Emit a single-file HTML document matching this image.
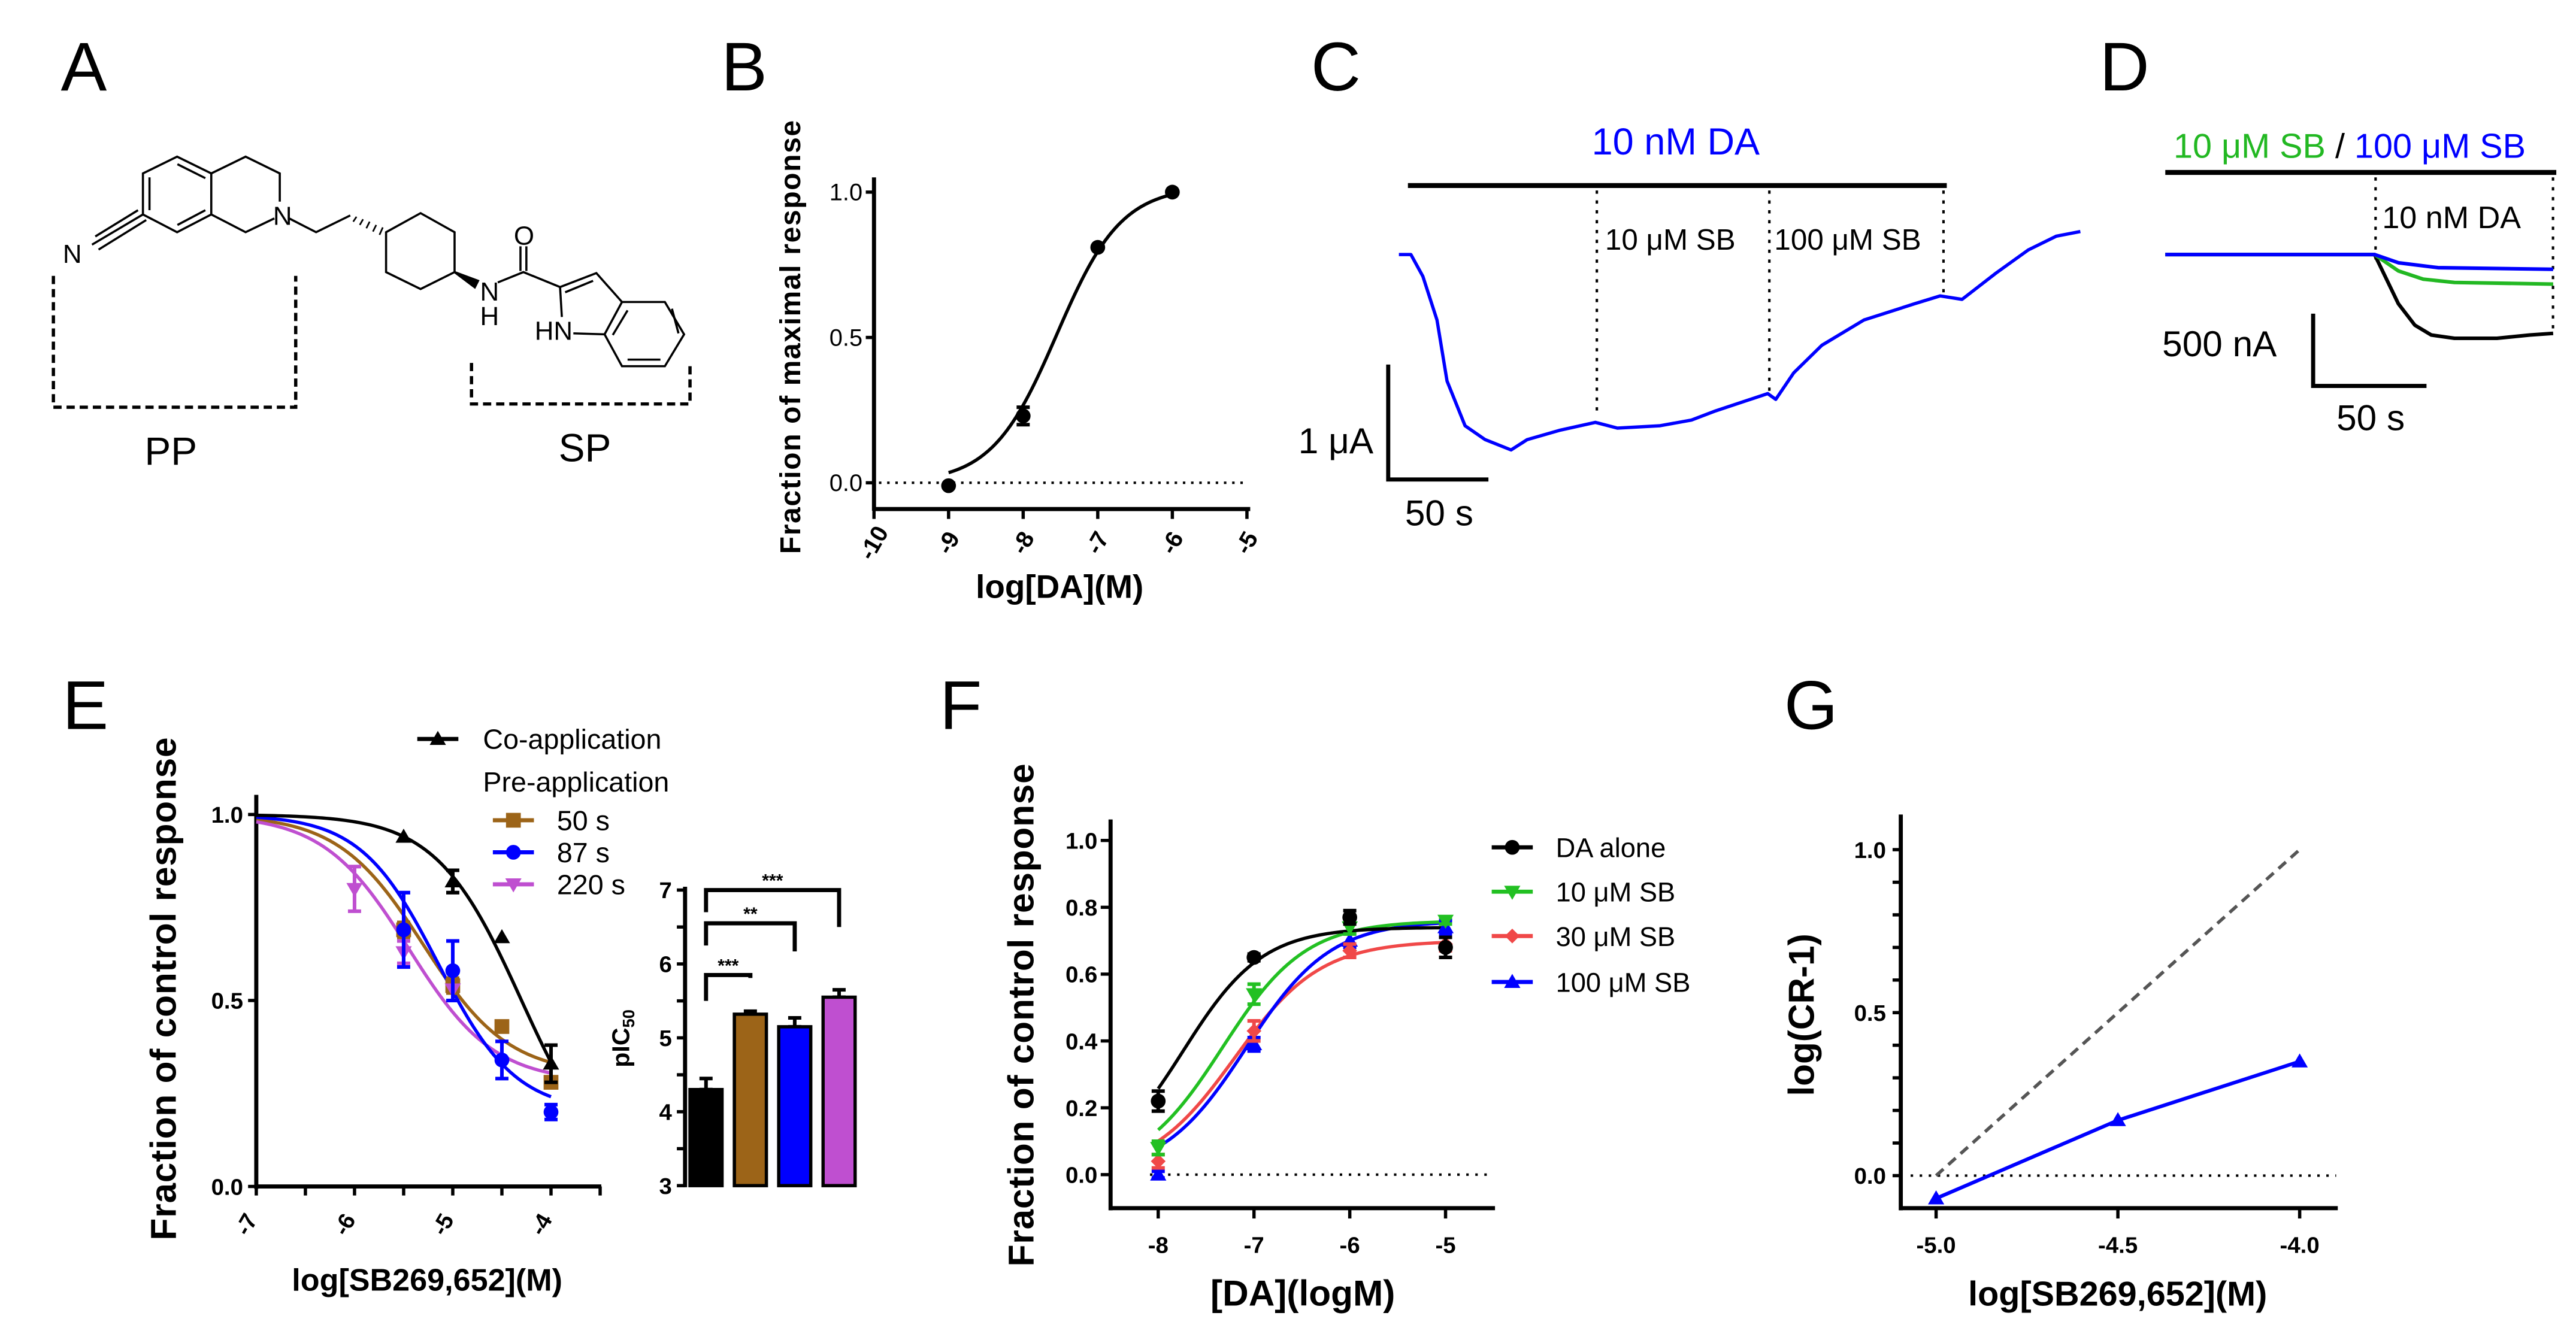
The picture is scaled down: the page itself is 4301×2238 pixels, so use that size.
<!DOCTYPE html>
<html><head><meta charset="utf-8"><style>
html,body{margin:0;padding:0;background:#fff}
svg{display:block}
text{font-family:"Liberation Sans",sans-serif}
.b{font-weight:bold}
.n{font-family:"Liberation Sans Narrow","Liberation Sans",sans-serif}
</style></head><body>
<svg id="fig" xmlns="http://www.w3.org/2000/svg" width="4301" height="2238" viewBox="0 0 1568 816" preserveAspectRatio="none">
<rect width="1568" height="816" fill="#fff"/>
<g font-size="42" fill="#000">
<text x="37" y="55">A</text>
<text x="439" y="55">B</text>
<text x="798" y="55">C</text>
<text x="1278" y="55">D</text>
<text x="38" y="444">E</text>
<text x="572" y="444">F</text>
<text x="1086" y="444">G</text>
</g>
<g id="structA" stroke="#000" stroke-width="1.3" fill="none">
<polygon points="107.8,95.4 128.6,105.6 128.6,130.6 107.8,141.4 87,130.6 87,105.6"/>
<line x1="91" y1="108" x2="91" y2="128"/><line x1="108" y1="100" x2="125" y2="108.5"/><line x1="108" y1="137" x2="125" y2="128"/>
<polyline points="128.6,105.6 149.5,95.4 170.3,105.6 170.3,122.8"/>
<polyline points="128.6,130.6 149.5,141.4 167,133"/>
<polyline points="176,133 192.4,141.4 213.2,131.2"/>
<g stroke-width="1"><line x1="217" y1="132" x2="215" y2="135"/><line x1="221" y1="133.5" x2="219" y2="137"/><line x1="225" y1="135" x2="223" y2="139"/><line x1="229" y1="137" x2="227" y2="141"/><line x1="233" y1="138.5" x2="231" y2="143"/></g>
<polygon points="235,141.4 256,129.8 276.7,141.4 276.7,165.7 256,176 235,165.7"/>
<polygon points="276.7,165.7 291,171 289,175" fill="#000"/>
<polyline points="303,172 318.6,165.7 340.9,174.8 363,166.3 378.6,183.9"/>
<line x1="316.8" y1="165" x2="316.8" y2="150"/><line x1="320.4" y1="165" x2="320.4" y2="150"/>
<line x1="344" y1="178" x2="361" y2="171"/>
<line x1="340.9" y1="174.8" x2="342" y2="193"/>
<line x1="349" y1="203" x2="368" y2="203.6"/>
<polygon points="378.6,183.9 404.7,183.9 416.4,203.6 404.7,223 378.6,223 368,203.6"/>
<line x1="382" y1="189" x2="373" y2="204"/><line x1="409" y1="188" x2="413" y2="203"/><line x1="382" y1="219" x2="402" y2="219"/>
<line x1="87" y1="130.6" x2="56" y2="149"/><line x1="84" y1="128" x2="58" y2="144"/><line x1="89" y1="134" x2="60" y2="152"/>
</g>
<g font-size="16" fill="#000" class="n">
<text x="172" y="137" text-anchor="middle">N</text>
<text x="44" y="160" text-anchor="middle">N</text>
<text x="298" y="183" text-anchor="middle">N</text>
<text x="298" y="198" text-anchor="middle">H</text>
<text x="319" y="149" text-anchor="middle">O</text>
<text x="337" y="207" text-anchor="middle">HN</text>
</g>
<g stroke="#000" stroke-width="2" stroke-dasharray="5,3" fill="none">
<polyline points="32.5,168 32.5,248 180,248 180,168"/>
<polyline points="287,221 287,246 420,246 420,221"/>
</g>
<text x="104" y="283" font-size="24" text-anchor="middle" class="n">PP</text>
<text x="356" y="281" font-size="24" text-anchor="middle" class="n">SP</text>

<text x="1020" y="94" font-size="23" fill="#0000ff" text-anchor="middle" class="n">10 nM DA</text>
<line x1="857" y1="113" x2="1185" y2="113" stroke="#000" stroke-width="3"/>
<g stroke="#000" stroke-width="1.5" stroke-dasharray="2,4">
<line x1="972" y1="116" x2="972" y2="254"/><line x1="1077" y1="116" x2="1077" y2="241"/><line x1="1183" y1="116" x2="1183" y2="179"/>
</g>
<text x="977" y="152" font-size="18" class="n">10 μM SB</text>
<text x="1080" y="152" font-size="18" class="n">100 μM SB</text>
<g id="traceC"></g>
<polyline points="845,222 845,292 906,292" stroke="#000" stroke-width="2.5" fill="none"/>
<text x="836" y="276" font-size="22" text-anchor="end" class="n">1 μA</text>
<text x="876" y="320" font-size="22" text-anchor="middle" class="n">50 s</text>

<text x="1323" y="96" font-size="21" class="n"><tspan fill="#22b822">10 μM SB</tspan><tspan fill="#000"> / </tspan><tspan fill="#0000ff">100 μM SB</tspan></text>
<line x1="1318" y1="105" x2="1556" y2="105" stroke="#000" stroke-width="3"/>
<g stroke="#000" stroke-width="1.5" stroke-dasharray="2,4">
<line x1="1446" y1="108" x2="1446" y2="160"/><line x1="1554" y1="108" x2="1554" y2="204"/>
</g>
<text x="1450" y="139" font-size="19" class="n">10 nM DA</text>
<g id="traceD"></g>
<polyline points="1408,191 1408,235 1477,235" stroke="#000" stroke-width="2.5" fill="none"/>
<text x="1351" y="217" font-size="22" text-anchor="middle" class="n">500 nA</text>
<text x="1443" y="262" font-size="22" text-anchor="middle" class="n">50 s</text>

<g id="chartB"></g>
<g id="chartE"></g>
<g id="chartEbar"></g>
<g id="chartF"></g>
<g id="chartG"></g>
</svg>
<script>
const bX = [-9, -8, -7, -6];
const bY = [-0.01, 0.23, 0.81, 1.0];
const bErr = [0.0, 0.03, 0.0, 0.0];
const bFit = [0, 1.02, -7.55, 1.0];
const bXTicks = [-10, -9, -8, -7, -6, -5];
const bYTicks = [0, 0.5, 1.0];
const cT = [0,6,12,19,24,33,43,56,64,80,98,109,130,146,158,184,188,197,211,232,257,270,281,298,314,328,340];
const cI = [0,0,-0.19,-0.57,-1.10,-1.49,-1.61,-1.70,-1.61,-1.53,-1.46,-1.51,-1.49,-1.44,-1.36,-1.21,-1.26,-1.03,-0.79,-0.57,-0.43,-0.36,-0.39,-0.16,0.04,0.16,0.20];
const dBlackT = [0,93,103.6,110.9,118.2,128.5,147.4,162,172.3];
const dBlackI = [0,0,-341,-489,-557,-580,-580,-557,-545];
const dGreenT = [0,93,103.6,114.6,128.5,172.3];
const dGreenI = [0,0,-114,-170,-193,-205];
const dBlueT = [0,93,103.6,121.2,172.3];
const dBlueI = [0,0,-57,-91,-102];
const eX = [-6, -5.5, -5, -4.5, -4];
const eCoY = [null, 0.94, 0.82, 0.67, 0.33];
const eCoErr = [0, 0, 0.03, 0, 0.05];
const e50Y = [null, 0.69, 0.54, 0.43, 0.28];
const e50Err = [0, 0.02, 0.02, 0, 0];
const e87Y = [null, 0.69, 0.58, 0.34, 0.20];
const e87Err = [0, 0.10, 0.08, 0.05, 0.02];
const e220Y = [0.80, 0.63, 0.53, null, null];
const e220Err = [0.06, 0.03, 0, 0, 0];
const eCoFit = [0, 1, -4.3, 1.0];
const e50Fit = [0.3, 1, -5.3, 1.0];
const e87Fit = [0.2, 1, -5.15, 1.1];
const e220Fit = [0.28, 1, -5.45, 1.0];
const eXTicks = [-7, -6, -5, -4];
const eYTicks = [0, 0.5, 1.0];
const eLegend = ["Co-application", "50 s", "87 s", "220 s"];
const barCats = ["co", "50s", "87s", "220s"];
const barVals = [4.3, 5.32, 5.15, 5.55];
const barErr = [0.15, 0.04, 0.12, 0.1];
const barYTicks = [3, 4, 5, 6, 7];
const sigLabels = ["***", "**", "***"];
const sigLevels = [5.85, 6.55, 7.0];
const fX = [-8, -7, -6, -5];
const fDA = [0.22, 0.65, 0.77, 0.68];
const fDAErr = [0.03, 0.01, 0.02, 0.03];
const f10 = [0.08, 0.54, 0.74, 0.76];
const f10Err = [0.02, 0.03, 0.02, 0.01];
const f30 = [0.04, 0.43, 0.67, 0.69];
const f30Err = [0.02, 0.03, 0.02, 0.02];
const f100 = [0.0, 0.39, 0.70, 0.74];
const f100Err = [0.01, 0.02, 0.02, 0.02];
const fDAFit = [0, 0.74, -7.74, 1.05];
const f10Fit = [0, 0.76, -7.33, 1.0];
const f30Fit = [0, 0.70, -7.2, 0.97];
const f100Fit = [0, 0.76, -7.08, 0.99];
const fXTicks = [-8, -7, -6, -5];
const fYTicks = [0, 0.2, 0.4, 0.6, 0.8, 1.0];
const fLegend = ["DA alone", "10 μM SB", "30 μM SB", "100 μM SB"];
const gX = [-5, -4.5, -4];
const gY = [-0.07, 0.17, 0.35];
const gUnity = [0, 1];
const gXTicks = [-5.0, -4.5, -4.0];
const gYTicks = [0, 0.5, 1.0];

const NS = "http://www.w3.org/2000/svg";
function mk(parent, tag, attrs, txt) {
  const e = document.createElementNS(NS, tag);
  for (const k in attrs) e.setAttribute(k, attrs[k]);
  if (txt !== undefined) e.textContent = txt;
  parent.appendChild(e);
  return e;
}
function logistic(p, x) { return p[0] + (p[1] - p[0]) / (1 + Math.pow(10, p[3] * (p[2] - x))); }
function inhib(p, x) { return p[0] + (p[1] - p[0]) / (1 + Math.pow(10, p[3] * (x - p[2]))); }
function curve(g, fn, p, x0, x1, xs, ys, color, name) {
  let d = "";
  for (let i = 0; i <= 80; i++) { const x = x0 + (x1 - x0) * i / 80; d += (i ? "L" : "M") + xs(x).toFixed(2) + "," + ys(fn(p, x)).toFixed(2); }
  const e = mk(g, "path", { d: d, stroke: color, "stroke-width": 2, fill: "none" });
  
  
}
function marker(g, shape, cx, cy, r, color, name) {
  let e;
  if (shape === "circle") e = mk(g, "circle", { cx: cx, cy: cy, r: r, fill: color });
  else if (shape === "square") e = mk(g, "rect", { x: cx - r, y: cy - r, width: 2 * r, height: 2 * r, fill: color });
  else if (shape === "up") e = mk(g, "polygon", { points: `${cx},${cy - r * 1.1} ${cx - r * 1.1},${cy + r * 0.8} ${cx + r * 1.1},${cy + r * 0.8}`, fill: color });
  else if (shape === "down") e = mk(g, "polygon", { points: `${cx},${cy + r * 1.1} ${cx - r * 1.1},${cy - r * 0.8} ${cx + r * 1.1},${cy - r * 0.8}`, fill: color });
  else e = mk(g, "polygon", { points: `${cx},${cy - r} ${cx + r},${cy} ${cx},${cy + r} ${cx - r},${cy}`, fill: color });
  
  
}
function errbar(g, cx, y1, y2, color, name) {
  const d = `M${cx},${y1}L${cx},${y2}M${cx - 4},${y1}L${cx + 4},${y1}M${cx - 4},${y2}L${cx + 4},${y2}`;
  const e = mk(g, "path", { d: d, stroke: color, "stroke-width": 2.2, fill: "none" });
  
  
}
function series(g, xs, ys, X, Y, E, shape, color, name) {
  X.forEach((x, i) => {
    if (Y[i] === null) return;
    if (E[i] > 0) errbar(g, xs(x), ys(Y[i] + E[i]), ys(Y[i] - E[i]), color, name + "-error-" + i);
    marker(g, shape, xs(x), ys(Y[i]), 4.5, color, name + "-point-" + i);
  });
}
function txt(g, x, y, s, size, attrs, name) {
  const a = Object.assign({ x: x, y: y, "font-size": size }, attrs || {});
  const e = mk(g, "text", a, s);
  
  
  return e;
}
function line(g, x1, y1, x2, y2, w, name, extra) {
  const e = mk(g, "line", Object.assign({ x1: x1, y1: y1, x2: x2, y2: y2, stroke: "#000", "stroke-width": w }, extra || {}));
  
  
  return e;
}
function trace(g, T, I, xs, ys, color, w, name) {
  const e = mk(g, "polyline", { points: T.map((t, i) => xs(t).toFixed(1) + "," + ys(I[i]).toFixed(1)).join(" "), stroke: color, "stroke-width": w, fill: "none", "stroke-linejoin": "round" });
  
  
}

(function () {
  const g = document.getElementById("traceC");
  trace(g, cT, cI, t => 851.5 + t * 1.22, v => 155 - v * 70, "#0000ff", 2, "c-current-trace");
  const gd = document.getElementById("traceD");
  const xs = t => 1318 + t * 1.37, ys = v => 155 - v * 0.088;
  trace(gd, dBlackT, dBlackI, xs, ys, "#000", 2.2, "d-trace-da-alone");
  trace(gd, dGreenT, dGreenI, xs, ys, "#22b822", 2.2, "d-trace-10um-sb");
  trace(gd, dBlueT, dBlueI, xs, ys, "#0000ff", 2.2, "d-trace-100um-sb");
})();

(function () {
  const g = document.getElementById("chartB");
  const xs = v => 532 + (v + 10) * 45.4, ys = v => 294 - v * 177;
  line(g, 532, 108, 532, 311, 2.5, "b-y-axis");
  line(g, 531, 310, 761, 310, 2.5, "b-x-axis");
  line(g, 535, 294, 757, 294, 1.5, "b-zero-line", { "stroke-dasharray": "1.5,3.5" });
  bXTicks.forEach(v => {
    line(g, xs(v), 310, xs(v), 316, 2, "b-x-tick");
    txt(g, 0, 0, String(v), 14.5, { transform: `translate(${xs(v) + 4},${333}) rotate(-60)`, "text-anchor": "middle", class: "b" }, "b-x-tick-label");
  });
  bYTicks.forEach(v => {
    line(g, 527, ys(v), 532, ys(v), 2, "b-y-tick");
    txt(g, 525, ys(v) + 5, v.toFixed(1), 14.5, { "text-anchor": "end" }, "b-y-tick-label");
  });
  curve(g, logistic, bFit, -9, -6, xs, ys, "#000", "b-fit-curve");
  series(g, xs, ys, bX, bY, bErr, "circle", "#000", "b-data");
  txt(g, 0, 0, "Fraction of maximal response", 17.5, { transform: "translate(487,205) rotate(-90)", "text-anchor": "middle", class: "b", "letter-spacing": "0.6" }, "b-y-axis-title");
  txt(g, 645, 364, "log[DA](M)", 20, { "text-anchor": "middle", class: "b" }, "b-x-axis-title");
})();

(function () {
  const g = document.getElementById("chartE");
  const xs = v => 156 + (v + 7) * 59.8, ys = v => 722.5 - v * 226.5;
  line(g, 156, 484, 156, 724, 2.5, "e-y-axis");
  line(g, 155, 722.5, 366, 722.5, 2.5, "e-x-axis");
  [-7, -6.5, -6, -5.5, -5, -4.5, -4, -3.5].forEach(v => line(g, xs(v), 722.5, xs(v), 728, 2, "e-x-tick"));
  eXTicks.forEach(v => txt(g, 0, 0, String(v), 14, { transform: `translate(${xs(v) - 2},${748}) rotate(-60)`, "text-anchor": "middle", class: "b" }, "e-x-tick-label"));
  eYTicks.forEach(v => {
    line(g, 151, ys(v), 156, ys(v), 2, "e-y-tick");
    txt(g, 148, ys(v) + 5, v.toFixed(1), 14, { "text-anchor": "end", class: "b" }, "e-y-tick-label");
  });
  curve(g, inhib, e50Fit, -7, -4, xs, ys, "#9c6418", "e-fit-50s");
  curve(g, inhib, e220Fit, -7, -4, xs, ys, "#bf4fd0", "e-fit-220s");
  curve(g, inhib, e87Fit, -7, -4, xs, ys, "#0000ff", "e-fit-87s");
  curve(g, inhib, eCoFit, -7, -4, xs, ys, "#000", "e-fit-coapp");
  series(g, xs, ys, eX, e50Y, e50Err, "square", "#9c6418", "e-50s");
  series(g, xs, ys, eX, e220Y, e220Err, "down", "#bf4fd0", "e-220s");
  series(g, xs, ys, eX, e87Y, e87Err, "circle", "#0000ff", "e-87s");
  series(g, xs, ys, eX, eCoY, eCoErr, "up", "#000", "e-coapp");
  const lg = [[450, "#000", "up"], [499.5, "#9c6418", "square"], [519, "#0000ff", "circle"], [538.5, "#bf4fd0", "down"]];
  lg.forEach((L, i) => {
    const x0 = i === 0 ? 254 : 300;
    line(g, x0, L[0], x0 + 25, L[0], 2.5, "e-legend-line", { stroke: L[1] });
    marker(g, L[2], x0 + 12.5, L[0], 4.5, L[1], "e-legend-marker");
    txt(g, i === 0 ? 294 : 339, L[0] + 6, eLegend[i], 17, {}, "e-legend-text");
  });
  txt(g, 294, 482, "Pre-application", 17, {}, "e-legend-group-title");
  txt(g, 0, 0, "Fraction of control response", 22, { transform: "translate(107,602) rotate(-90)", "text-anchor": "middle", class: "b", "letter-spacing": "0.3" }, "e-y-axis-title");
  txt(g, 260, 786, "log[SB269,652](M)", 19, { "text-anchor": "middle", class: "b" }, "e-x-axis-title");
})();

(function () {
  const g = document.getElementById("chartEbar");
  const ys = v => 722 - (v - 3) * 45;
  const cols = ["#000", "#9c6418", "#0000ff", "#bf4fd0"];
  const xs = i => 420 + i * 27;
  line(g, 417, 540, 417, 723, 2.5, "ebar-y-axis");
  [3, 3.5, 4, 4.5, 5, 5.5, 6, 6.5, 7].forEach(v => line(g, 412, ys(v), 417, ys(v), 2, "ebar-y-tick"));
  barYTicks.forEach(v => txt(g, 409, ys(v) + 5, String(v), 14, { "text-anchor": "end", class: "b" }, "ebar-y-tick-label"));
  barVals.forEach((v, i) => {
    const x = xs(i), w = 19.5;
    const top = ys(v);
    errbar(g, x + w / 2, ys(v + barErr[i]), top, "#000", "ebar-error-" + barCats[i]);
    const r = mk(g, "rect", { x: x, y: top, width: w, height: ys(3) - top, fill: cols[i], stroke: "#000", "stroke-width": 2 });
    
    
  });
  const c0 = xs(0) + 9.75;
  sigLabels.forEach((s, k) => {
    const ci = xs(k + 1) + 9.75, yt = ys(sigLevels[k]);
    const leftBot = [ys(5.5), ys(6.25), ys(6.7)][k];
    const rightBot = ys(barVals[k + 1] + barErr[k + 1] + [0.45, 0.9, 0.85][k]);
    const e = mk(g, "polyline", { points: `${c0},${leftBot} ${c0},${yt} ${ci},${yt} ${ci},${rightBot}`, stroke: "#000", "stroke-width": 2.5, fill: "none" });
    
    
    txt(g, (c0 + ci) / 2, yt - 2, s, 11, { "text-anchor": "middle", class: "b" }, "significance-label");
  });
  txt(g, 0, 0, "pIC", 15, { transform: "translate(383,650) rotate(-90)", class: "b" }, "ebar-y-axis-title").innerHTML = 'pIC<tspan font-size="10" dy="3">50</tspan>';
})();

(function () {
  const g = document.getElementById("chartF");
  const xs = v => 705 + (v + 8) * 58.3, ys = v => 715.3 - v * 203.5;
  line(g, 676, 499, 676, 737, 2.5, "f-y-axis");
  line(g, 675, 735.7, 910, 735.7, 2.5, "f-x-axis");
  line(g, 700, 715.3, 905, 715.3, 1.5, "f-zero-line", { "stroke-dasharray": "1.5,4" });
  fXTicks.forEach(v => {
    line(g, xs(v), 735.7, xs(v), 742, 2, "f-x-tick");
    txt(g, xs(v), 763, String(v), 14, { "text-anchor": "middle", class: "b" }, "f-x-tick-label");
  });
  fYTicks.forEach(v => {
    line(g, 670, ys(v), 676, ys(v), 2, "f-y-tick");
    txt(g, 668, ys(v) + 5, v.toFixed(1), 14, { "text-anchor": "end", class: "b" }, "f-y-tick-label");
  });
  curve(g, logistic, f30Fit, -8, -5, xs, ys, "#f04848", "f-fit-30um");
  curve(g, logistic, f100Fit, -8, -5, xs, ys, "#0000ff", "f-fit-100um");
  curve(g, logistic, f10Fit, -8, -5, xs, ys, "#22c022", "f-fit-10um");
  curve(g, logistic, fDAFit, -8, -5, xs, ys, "#000", "f-fit-da-alone");
  series(g, xs, ys, fX, f100, f100Err, "up", "#0000ff", "f-100um");
  series(g, xs, ys, fX, f30, f30Err, "diamond", "#f04848", "f-30um");
  series(g, xs, ys, fX, f10, f10Err, "down", "#22c022", "f-10um");
  series(g, xs, ys, fX, fDA, fDAErr, "circle", "#000", "f-da-alone");
  const lg = [[516, "#000", "circle"], [543, "#22c022", "down"], [570, "#f04848", "diamond"], [598, "#0000ff", "up"]];
  lg.forEach((L, i) => {
    line(g, 908, L[0], 933, L[0], 2.5, "f-legend-line", { stroke: L[1] });
    marker(g, L[2], 920.5, L[0], 4.5, L[1], "f-legend-marker");
    txt(g, 947, L[0] + 6, fLegend[i], 16.5, {}, "f-legend-text");
  });
  txt(g, 0, 0, "Fraction of control response", 22, { transform: "translate(629,618) rotate(-90)", "text-anchor": "middle", class: "b", "letter-spacing": "0.3" }, "f-y-axis-title");
  txt(g, 793, 795, "[DA](logM)", 22, { "text-anchor": "middle", class: "b" }, "f-x-axis-title");
})();

(function () {
  const g = document.getElementById("chartG");
  const xs = v => 1178.5 + (v + 5) * 221.3, ys = v => 715.9 - v * 198.5;
  line(g, 1157, 496, 1157, 737, 2.5, "g-y-axis");
  line(g, 1156, 735.7, 1423, 735.7, 2.5, "g-x-axis");
  line(g, 1163, 715.9, 1422, 715.9, 1.5, "g-zero-line", { "stroke-dasharray": "1.5,4" });
  for (let k = 0; k <= 10; k++) line(g, 1152, ys(k / 10), 1157, ys(k / 10), 2, "g-y-tick");
  gYTicks.forEach(v => txt(g, 1148, ys(v) + 5, v.toFixed(1), 14, { "text-anchor": "end", class: "b" }, "g-y-tick-label"));
  gXTicks.forEach(v => {
    line(g, xs(v), 735.7, xs(v), 742, 2, "g-x-tick");
    txt(g, xs(v), 763, v.toFixed(1), 14, { "text-anchor": "middle", class: "b" }, "g-x-tick-label");
  });
  line(g, xs(-5), ys(gUnity[0]), xs(-4), ys(gUnity[1]), 2, "g-unity-line", { stroke: "#555", "stroke-dasharray": "6,4" });
  trace(g, gX, gY, xs, ys, "#0000ff", 2.2, "g-schild-line");
  gX.forEach((x, i) => marker(g, "up", xs(x), ys(gY[i]), 4.5, "#0000ff", "g-point-" + i));
  txt(g, 0, 0, "log(CR-1)", 22, { transform: "translate(1104,618) rotate(-90)", "text-anchor": "middle", class: "b" }, "g-y-axis-title");
  txt(g, 1289, 795, "log[SB269,652](M)", 21, { "text-anchor": "middle", class: "b" }, "g-x-axis-title");
})();
</script>
</body></html>
